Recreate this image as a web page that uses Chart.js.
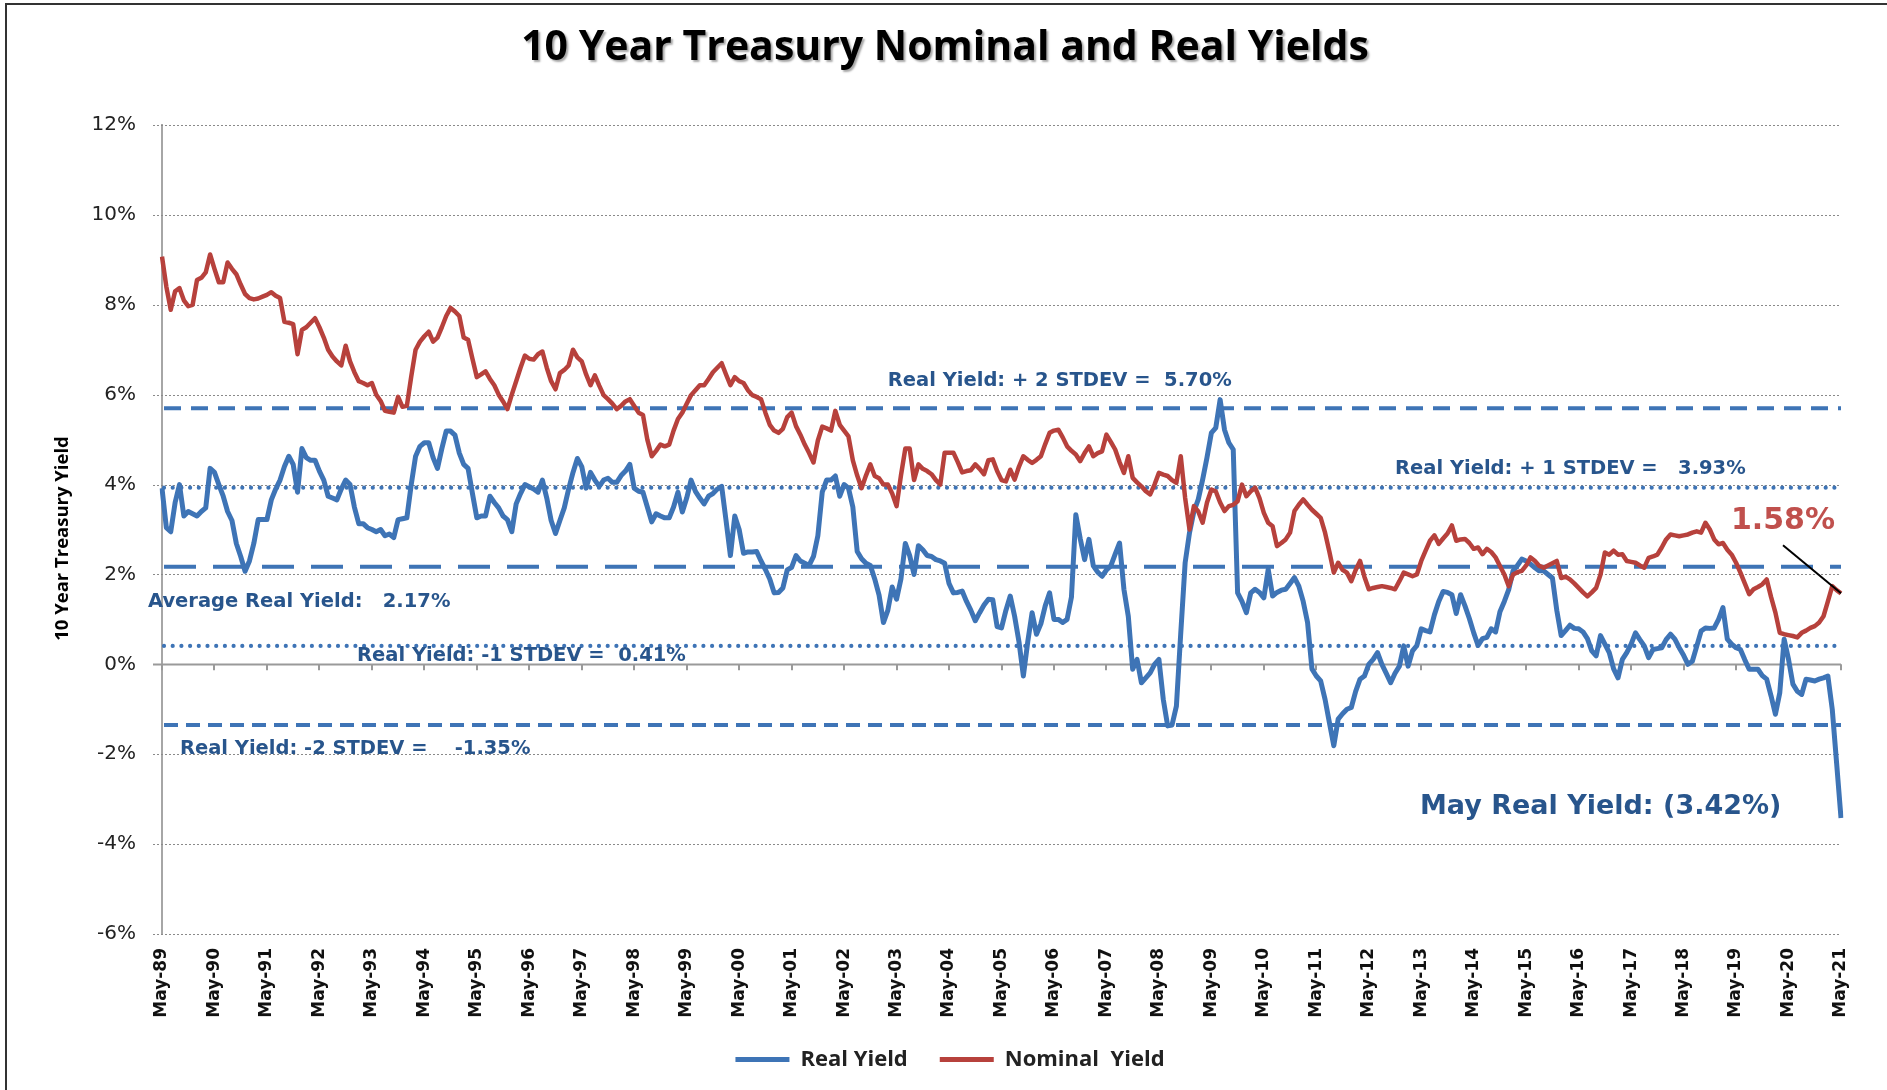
<!DOCTYPE html>
<html>
<head>
<meta charset="utf-8">
<title>10 Year Treasury Nominal and Real Yields</title>
<script src="https://cdn.jsdelivr.net/npm/chart.js@4.4.0/dist/chart.umd.min.js"></script>
<style>
  html, body { margin: 0; padding: 0; background: #fff; }
  #wrap { position: relative; width: 1887px; height: 1090px; }
</style>
</head>
<body>
<div id="wrap"><canvas id="chart" width="1887" height="1090"></canvas></div>
<script>
// ---------- DATA (monthly, May-89 .. May-21) ----------
const startYear = 1989;
const startMonth = 4; // May
const monthNames = ["Jan","Feb","Mar","Apr","May","Jun","Jul","Aug","Sep","Oct","Nov","Dec"];

const nominalYield = [
  9.07, 8.40, 7.89, 8.30, 8.37, 8.10, 7.97, 8.00, 8.55, 8.60, 8.72, 9.12,
  8.80, 8.50, 8.50, 8.94, 8.80, 8.68, 8.45, 8.24, 8.15, 8.12, 8.14, 8.18,
  8.22, 8.28, 8.20, 8.15, 7.62, 7.60, 7.57, 6.90, 7.44, 7.50, 7.60, 7.70,
  7.50, 7.27, 7.00, 6.85, 6.74, 6.65, 7.09, 6.74, 6.50, 6.30, 6.26, 6.21,
  6.26, 6.00, 5.86, 5.64, 5.62, 5.60, 5.95, 5.73, 5.75, 6.40, 7.00, 7.18,
  7.30, 7.40, 7.18, 7.27, 7.50, 7.75, 7.93, 7.85, 7.75, 7.27, 7.22, 6.80,
  6.39, 6.45, 6.52, 6.35, 6.21, 6.00, 5.85, 5.68, 6.00, 6.30, 6.60, 6.87,
  6.80, 6.78, 6.90, 6.96, 6.60, 6.30, 6.12, 6.48, 6.55, 6.65, 7.00, 6.83,
  6.74, 6.45, 6.21, 6.43, 6.20, 5.99, 5.90, 5.80, 5.68, 5.75, 5.85, 5.90,
  5.75, 5.60, 5.55, 5.00, 4.63, 4.75, 4.89, 4.85, 4.89, 5.20, 5.46, 5.60,
  5.80, 5.99, 6.10, 6.21, 6.21, 6.35, 6.50, 6.60, 6.70, 6.45, 6.21, 6.39,
  6.30, 6.26, 6.10, 5.99, 5.95, 5.90, 5.60, 5.33, 5.20, 5.15, 5.24, 5.50,
  5.60, 5.30, 5.11, 4.89, 4.70, 4.49, 4.98, 5.29, 5.25, 5.20, 5.64, 5.33,
  5.20, 5.07, 4.54, 4.20, 3.92, 4.20, 4.45, 4.19, 4.14, 4.00, 4.00, 3.80,
  3.52, 4.20, 4.80, 4.80, 4.10, 4.45, 4.35, 4.30, 4.23, 4.10, 4.00, 4.71,
  4.71, 4.71, 4.50, 4.27, 4.30, 4.32, 4.45, 4.35, 4.23, 4.54, 4.56, 4.30,
  4.10, 4.07, 4.33, 4.11, 4.40, 4.63, 4.55, 4.48, 4.55, 4.63, 4.90, 5.15,
  5.20, 5.22, 5.05, 4.85, 4.75, 4.67, 4.52, 4.70, 4.85, 4.63, 4.70, 4.74,
  5.11, 4.95, 4.78, 4.50, 4.26, 4.63, 4.15, 4.05, 3.96, 3.85, 3.78, 4.00,
  4.26, 4.22, 4.19, 4.10, 4.04, 4.63, 3.70, 3.00, 3.52, 3.40, 3.15, 3.60,
  3.89, 3.85, 3.60, 3.41, 3.52, 3.55, 3.63, 4.00, 3.74, 3.85, 3.93, 3.70,
  3.37, 3.15, 3.07, 2.63, 2.70, 2.78, 2.93, 3.41, 3.55, 3.67, 3.55, 3.44,
  3.35, 3.26, 2.93, 2.50, 2.04, 2.26, 2.10, 2.04, 1.85, 2.10, 2.30, 1.95,
  1.67, 1.70, 1.72, 1.74, 1.72, 1.70, 1.67, 1.85, 2.04, 2.00, 1.96, 2.00,
  2.30, 2.53, 2.75, 2.87, 2.68, 2.80, 2.91, 3.09, 2.75, 2.78, 2.79, 2.70,
  2.57, 2.60, 2.45, 2.57, 2.50, 2.38, 2.19, 2.00, 1.74, 2.00, 2.05, 2.08,
  2.20, 2.38, 2.30, 2.19, 2.15, 2.20, 2.25, 2.30, 1.92, 1.95, 1.89, 1.80,
  1.70, 1.60, 1.51, 1.60, 1.70, 2.00, 2.49, 2.44, 2.53, 2.44, 2.45, 2.30,
  2.28, 2.26, 2.20, 2.15, 2.37, 2.40, 2.44, 2.60, 2.78, 2.89, 2.87, 2.85,
  2.87, 2.89, 2.93, 2.96, 2.93, 3.15, 3.00, 2.78, 2.67, 2.70, 2.55, 2.44,
  2.26, 2.04, 1.80, 1.56, 1.67, 1.72, 1.78, 1.89, 1.50, 1.15, 0.70, 0.67,
  0.65, 0.63, 0.60, 0.70, 0.75, 0.81, 0.85, 0.93, 1.07, 1.40, 1.74, 1.65,
  1.58
];

const realYield = [
  3.92, 3.04, 2.95, 3.60, 4.00, 3.30, 3.40, 3.35, 3.30, 3.40, 3.48, 4.36,
  4.27, 4.00, 3.74, 3.40, 3.20, 2.69, 2.40, 2.07, 2.30, 2.69, 3.22, 3.22,
  3.22, 3.66, 3.90, 4.10, 4.40, 4.63, 4.45, 3.83, 4.80, 4.60, 4.54, 4.54,
  4.30, 4.10, 3.74, 3.70, 3.66, 3.90, 4.10, 4.00, 3.50, 3.13, 3.13, 3.04,
  3.00, 2.95, 3.00, 2.86, 2.90, 2.82, 3.22, 3.24, 3.26, 4.00, 4.63, 4.85,
  4.93, 4.93, 4.60, 4.36, 4.80, 5.19, 5.19, 5.10, 4.70, 4.45, 4.36, 3.80,
  3.26, 3.30, 3.30, 3.74, 3.60, 3.48, 3.30, 3.22, 2.95, 3.57, 3.80, 4.00,
  3.95, 3.90, 3.83, 4.10, 3.70, 3.20, 2.91, 3.20, 3.48, 3.90, 4.27, 4.58,
  4.40, 3.92, 4.27, 4.10, 3.96, 4.10, 4.14, 4.05, 4.05, 4.20, 4.30, 4.45,
  3.92, 3.85, 3.83, 3.50, 3.17, 3.35, 3.30, 3.26, 3.26, 3.50, 3.83, 3.39,
  3.70, 4.10, 3.85, 3.70, 3.57, 3.74, 3.80, 3.90, 3.96, 3.20, 2.42, 3.30,
  3.00, 2.47, 2.50, 2.50, 2.51, 2.30, 2.11, 1.90, 1.59, 1.60, 1.70, 2.10,
  2.16, 2.42, 2.30, 2.25, 2.20, 2.40, 2.86, 3.83, 4.10, 4.10, 4.19, 3.74,
  4.00, 3.92, 3.50, 2.51, 2.35, 2.25, 2.20, 1.90, 1.54, 0.93, 1.20, 1.72,
  1.45, 1.90, 2.69, 2.42, 2.00, 2.64, 2.55, 2.42, 2.40, 2.33, 2.30, 2.25,
  1.80, 1.59, 1.60, 1.63, 1.40, 1.20, 0.97, 1.15, 1.32, 1.45, 1.44, 0.84,
  0.81, 1.20, 1.52, 1.07, 0.50, -0.26, 0.50, 1.15, 0.67, 0.90, 1.30, 1.59,
  1.00, 1.00, 0.93, 1.00, 1.50, 3.33, 2.80, 2.33, 2.78, 2.19, 2.05, 1.96,
  2.10, 2.19, 2.45, 2.70, 1.67, 1.07, -0.11, 0.11, -0.41, -0.30, -0.19, 0.00,
  0.11, -0.78, -1.37, -1.35, -0.93, 0.70, 2.26, 2.93, 3.40, 3.67, 4.11, 4.60,
  5.15, 5.26, 5.89, 5.22, 4.93, 4.78, 1.59, 1.40, 1.15, 1.59, 1.67, 1.60,
  1.48, 2.11, 1.52, 1.60, 1.65, 1.67, 1.80, 1.93, 1.74, 1.40, 0.93, -0.10,
  -0.26, -0.37, -0.78, -1.30, -1.81, -1.22, -1.10, -1.00, -0.96, -0.60, -0.33, -0.26,
  0.00, 0.11, 0.26, 0.00, -0.20, -0.41, -0.20, -0.04, 0.41, -0.04, 0.30, 0.42,
  0.79, 0.75, 0.72, 1.10, 1.40, 1.62, 1.60, 1.55, 1.13, 1.55, 1.30, 1.02,
  0.70, 0.42, 0.57, 0.60, 0.79, 0.72, 1.17, 1.40, 1.66, 2.08, 2.20, 2.34,
  2.30, 2.23, 2.15, 2.08, 2.08, 2.00, 1.92, 1.20, 0.64, 0.75, 0.87, 0.80,
  0.79, 0.72, 0.57, 0.30, 0.19, 0.64, 0.45, 0.26, -0.10, -0.30, 0.11, 0.26,
  0.45, 0.70, 0.55, 0.41, 0.15, 0.33, 0.35, 0.37, 0.55, 0.67, 0.56, 0.37,
  0.20, 0.00, 0.07, 0.40, 0.74, 0.81, 0.80, 0.81, 1.00, 1.26, 0.56, 0.45,
  0.37, 0.33, 0.10, -0.11, -0.11, -0.11, -0.25, -0.33, -0.70, -1.11, -0.63, 0.56,
  0.11, -0.44, -0.60, -0.67, -0.33, -0.35, -0.37, -0.33, -0.30, -0.26, -1.00, -2.20,
  -3.42
];

// real yield statistics: +2sd, +1sd, mean, -1sd, -2sd
const stdevLevels = [5.70, 3.93, 2.17, 0.41, -1.35];
const stdevLabels = [
  "Real Yield: + 2 STDEV =  5.70%",
  "Real Yield: + 1 STDEV =   3.93%",
  "Average Real Yield:   2.17%",
  "Real Yield: -1 STDEV =  0.41%",
  "Real Yield: -2 STDEV =    -1.35%"
];
const lastNominalLabel = "1.58%";
const lastRealLabel = "May Real Yield: (3.42%)";

const labels = nominalYield.map((_, i) => {
  const t = startMonth + i;
  const yr = (startYear + Math.floor(t / 12)) % 100;
  return monthNames[t % 12] + "-" + String(yr).padStart(2, "0");
});

// ---------- STYLE ----------
const BLUE = "#3E74B6";
const RED = "#B7413C";
const TEXT_BLUE = "#28558C";
const bandStyles = [
  { dash: [17, 10], cap: "butt", width: 4 },
  { dash: [0, 8.7], cap: "round", width: 4.2 },
  { dash: [32, 17], cap: "butt", width: 4 },
  { dash: [0, 8.7], cap: "round", width: 4.2 },
  { dash: [14, 8], cap: "butt", width: 4 }
];
// text positions: x as month index, y as axis value
const notePos = [
  { i: 166, v: 6.31 },
  { i: 282, v: 4.35 },
  { i: -3.2, v: 1.39 },
  { i: 44.6, v: 0.18 },
  { i: 4.1, v: -1.88 }
];

const FONT_MAIN = "'DejaVu Sans', Verdana, sans-serif";
const FONT_NARROW = "'Open Sans', 'Liberation Sans', sans-serif";

// ---------- PLUGIN: grid, bands, notes, titles ----------
const decor = {
  id: "decor",
  beforeDatasetsDraw(chart) {
    const { ctx, chartArea: a, scales: { x, y } } = chart;
    ctx.save();
    // horizontal grid
    y.ticks.forEach(t => {
      const py = Math.round(y.getPixelForValue(t.value)) + 0.5;
      ctx.beginPath();
      if (t.value === 0) {
        ctx.setLineDash([]);
        ctx.strokeStyle = "#9a9a9a";
        ctx.lineWidth = 2;
      } else {
        ctx.setLineDash([2, 2]);
        ctx.strokeStyle = "#8a8a8a";
        ctx.lineWidth = 1;
      }
      ctx.moveTo(a.left - 9, py);
      ctx.lineTo(a.right, py);
      ctx.stroke();
    });
    // year tick marks on the zero line
    const y0 = y.getPixelForValue(0);
    ctx.setLineDash([]);
    ctx.strokeStyle = "#9a9a9a";
    ctx.lineWidth = 2;
    for (let i = 0; i < labels.length; i += 12) {
      const px = Math.round(x.getPixelForValue(i));
      ctx.beginPath();
      ctx.moveTo(px, y0);
      ctx.lineTo(px, y0 + 6);
      ctx.stroke();
    }
    // stdev bands
    stdevLevels.forEach((v, k) => {
      const st = bandStyles[k];
      const py = y.getPixelForValue(v);
      ctx.beginPath();
      ctx.setLineDash(st.dash);
      ctx.lineCap = st.cap;
      ctx.lineWidth = st.width;
      ctx.strokeStyle = BLUE;
      ctx.moveTo(a.left + 2, py);
      ctx.lineTo(a.right, py);
      ctx.stroke();
    });
    ctx.restore();
  },
  afterDatasetsDraw(chart) {
    const { ctx, scales: { x, y } } = chart;
    const step = (x.getPixelForValue(12) - x.getPixelForValue(0)) / 12;
    const x0 = x.getPixelForValue(0);
    ctx.save();
    ctx.textBaseline = "middle";
    ctx.textAlign = "left";
    ctx.fillStyle = TEXT_BLUE;
    ctx.font = "bold 19.5px " + FONT_MAIN;
    stdevLabels.forEach((txt, k) => {
      const p = notePos[k];
      ctx.fillText(txt, x0 + p.i * step, y.getPixelForValue(p.v));
    });
    const last = labels.length - 1;
    // May real yield note
    ctx.font = "bold 27px " + FONT_MAIN;
    ctx.fillText(lastRealLabel, x0 + 287.7 * step, y.getPixelForValue(-3.17));
    // nominal end note + pointer
    ctx.fillStyle = "#C0504D";
    ctx.font = "bold 30px " + FONT_MAIN;
    ctx.textAlign = "right";
    ctx.fillText(lastNominalLabel, x.getPixelForValue(last) - 6, y.getPixelForValue(3.19));
    const ex = x.getPixelForValue(last), ey = y.getPixelForValue(nominalYield[last]);
    ctx.strokeStyle = "#000";
    ctx.lineWidth = 2;
    ctx.beginPath();
    ctx.moveTo(ex - 58, ey - 48);
    ctx.lineTo(ex, ey);
    ctx.stroke();
    ctx.restore();
  },
  afterDraw(chart) {
    const { ctx, chartArea: a } = chart;
    ctx.save();
    // frame
    ctx.strokeStyle = "#333";
    ctx.lineWidth = 2;
    ctx.beginPath();
    ctx.moveTo(6, chart.height);
    ctx.lineTo(6, 4);
    ctx.lineTo(chart.width, 4);
    ctx.stroke();
    // y axis title
    ctx.save();
    ctx.translate(63, (a.top + a.bottom) / 2 + 9);
    ctx.rotate(-Math.PI / 2);
    ctx.font = "bold 18.5px " + FONT_NARROW;
    ctx.textAlign = "center";
    ctx.textBaseline = "middle";
    ctx.fillStyle = "#000";
    ctx.fillText("10 Year Treasury Yield", 0, 0);
    ctx.restore();
    // title
    ctx.font = "bold 41px " + FONT_NARROW;
    ctx.textAlign = "center";
    ctx.textBaseline = "middle";
    ctx.shadowColor = "rgba(0,0,0,0.35)";
    ctx.shadowOffsetX = 2;
    ctx.shadowOffsetY = 2;
    ctx.shadowBlur = 2;
    ctx.fillStyle = "#000";
    ctx.fillText("10 Year Treasury Nominal and Real Yields", 945, 48);
    ctx.restore();
  }
};

// ---------- CHART ----------
new Chart(document.getElementById("chart"), {
  type: "line",
  data: {
    labels: labels,
    datasets: [
      { label: "Nominal  Yield", data: nominalYield, borderColor: RED, backgroundColor: RED,
        borderWidth: 4.5, pointRadius: 0, tension: 0, borderJoinStyle: "round" },
      { label: "Real Yield", data: realYield, borderColor: BLUE, backgroundColor: BLUE,
        borderWidth: 5, pointRadius: 0, tension: 0, borderJoinStyle: "round" }
    ]
  },
  options: {
    responsive: false,
    animation: false,
    layout: { padding: { left: 59, right: 46, top: 125, bottom: 9.5 } },
    plugins: {
      tooltip: { enabled: false },
      title: { display: false },
      legend: {
        position: "bottom",
        reverse: true,
        labels: {
          boxWidth: 54,
          boxHeight: 5,
          padding: 32,
          color: "#222",
          font: { family: FONT_NARROW, size: 22, weight: "bold" },
          generateLabels(chart) {
            return Chart.defaults.plugins.legend.labels.generateLabels(chart).map(l => {
              l.lineWidth = 0;
              l.fillStyle = l.strokeStyle;
              return l;
            });
          }
        }
      }
    },
    scales: {
      x: {
        offset: false,
        grid: { display: false, drawTicks: false },
        border: { display: false },
        ticks: {
          autoSkip: false,
          maxRotation: 90,
          minRotation: 90,
          padding: 14,
          color: "#111",
          font: { family: FONT_MAIN, size: 17, weight: "bold" },
          callback(value, index) { return index % 12 === 0 ? this.getLabelForValue(value) : ""; }
        },
        afterFit(s) { s.height = 82.5; }
      },
      y: {
        min: -6,
        max: 12,
        grid: { display: false, drawTicks: false },
        border: { display: true, color: "#a6a6a6", width: 2 },
        ticks: {
          stepSize: 2,
          padding: 26,
          color: "#222",
          font: { family: FONT_MAIN, size: 20 },
          callback: v => v + "%"
        },
        afterFit(s) { s.width = 103; }
      }
    }
  },
  plugins: [decor]
});
</script>
</body>
</html>
